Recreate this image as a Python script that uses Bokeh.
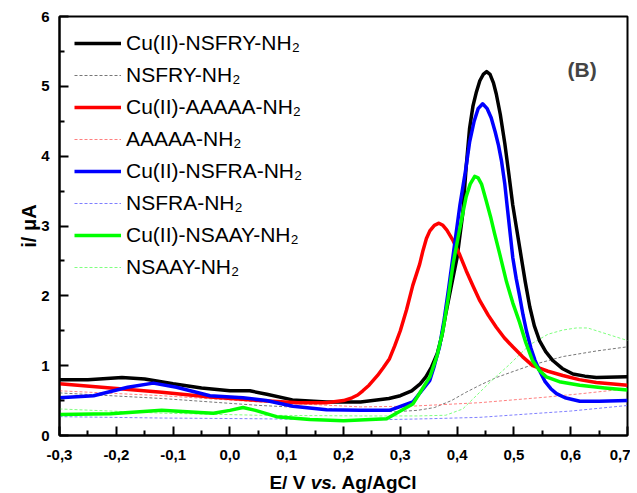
from bokeh.plotting import figure
from bokeh.models import (FixedTicker, CustomJSTickFormatter, Legend, LegendItem, Label, Div)
from bokeh.layouts import column
from bokeh.embed import file_html
from bokeh.resources import INLINE

# ---------------- data ----------------
# Cu(II)-NSFRY-NH2 (black, solid)
E_cu_nsfry = [-0.30, -0.25, -0.19, -0.15, -0.10, -0.05, 0.00, 0.035, 0.065, 0.11, 0.17, 0.23, 0.28,
              0.30, 0.32, 0.335, 0.345, 0.355, 0.365, 0.373, 0.38, 0.39, 0.40, 0.41, 0.416, 0.422,
              0.428, 0.434, 0.44, 0.446, 0.452, 0.458, 0.464, 0.469, 0.476, 0.484, 0.491, 0.498,
              0.505, 0.513, 0.52, 0.528, 0.536, 0.545, 0.556, 0.569, 0.585, 0.604, 0.625, 0.645, 0.70]
i_cu_nsfry = [0.80, 0.80, 0.83, 0.81, 0.74, 0.68, 0.64, 0.64, 0.59, 0.51, 0.48, 0.48, 0.53,
              0.57, 0.64, 0.74, 0.84, 0.98, 1.17, 1.42, 1.74, 2.15, 2.55, 3.18, 3.85, 4.40,
              4.72, 4.92, 5.08, 5.17, 5.21, 5.17, 5.05, 4.89, 4.60, 4.18, 3.75, 3.30,
              2.95, 2.55, 2.20, 1.84, 1.57, 1.36, 1.20, 1.07, 0.96, 0.88, 0.85, 0.83, 0.84]
# NSFRY-NH2 (black, dashed)
E_nsfry = [-0.30, -0.12, 0.053, 0.23, 0.29, 0.33, 0.36, 0.39, 0.416, 0.44, 0.469, 0.50, 0.528, 0.586, 0.645, 0.70]
i_nsfry = [0.61, 0.53, 0.43, 0.36, 0.34, 0.36, 0.40, 0.50, 0.62, 0.72, 0.83, 0.92, 1.00, 1.13, 1.21, 1.27]

# Cu(II)-AAAAA-NH2 (red, solid)
E_cu_aaaaa = [-0.30, -0.21, -0.12, -0.035, 0.053, 0.12, 0.17, 0.20, 0.215, 0.225, 0.234, 0.245,
              0.26, 0.27, 0.281, 0.29, 0.30, 0.311, 0.322, 0.334, 0.34, 0.346, 0.352, 0.36, 0.368,
              0.375, 0.382, 0.393, 0.405, 0.416, 0.428, 0.44, 0.455, 0.469, 0.483, 0.498, 0.515,
              0.533, 0.56, 0.586, 0.615, 0.645, 0.70]
i_cu_aaaaa = [0.74, 0.68, 0.62, 0.55, 0.50, 0.47, 0.47, 0.50, 0.54, 0.58, 0.64, 0.72,
              0.86, 0.97, 1.10, 1.28, 1.50, 1.80, 2.15, 2.45, 2.65, 2.82, 2.93, 3.01, 3.04,
              3.01, 2.94, 2.79, 2.58, 2.36, 2.14, 1.93, 1.72, 1.55, 1.40, 1.27, 1.13,
              1.00, 0.92, 0.86, 0.80, 0.76, 0.72]
# AAAAA-NH2 (red, dashed)
E_aaaaa = [-0.30, -0.12, 0.053, 0.23, 0.32, 0.44, 0.557, 0.62, 0.70]
i_aaaaa = [0.64, 0.57, 0.48, 0.41, 0.42, 0.47, 0.55, 0.60, 0.67]

# Cu(II)-NSFRA-NH2 (blue, solid)
E_cu_nsfra = [-0.30, -0.24, -0.18, -0.135, -0.094, -0.035, 0.023, 0.064, 0.111, 0.17, 0.23, 0.281,
              0.322, 0.352, 0.36, 0.369, 0.377, 0.385, 0.395, 0.405, 0.415, 0.422, 0.43, 0.437,
              0.445, 0.453, 0.46, 0.467, 0.473, 0.478, 0.484, 0.489, 0.494, 0.498, 0.504, 0.51,
              0.516, 0.522, 0.53, 0.537, 0.545, 0.555, 0.565, 0.575, 0.59, 0.616, 0.65, 0.70]
i_cu_nsfra = [0.54, 0.57, 0.69, 0.75, 0.69, 0.57, 0.54, 0.50, 0.42, 0.37, 0.36, 0.36,
              0.48, 0.79, 1.00, 1.27, 1.65, 2.10, 2.70, 3.30, 3.80, 4.20, 4.50, 4.68,
              4.75, 4.68, 4.55, 4.35, 4.15, 3.94, 3.60, 3.22, 2.85, 2.55, 2.25, 2.00,
              1.73, 1.50, 1.25, 1.08, 0.93, 0.77, 0.67, 0.60, 0.54, 0.49, 0.49, 0.50]
# NSFRA-NH2 (blue, dashed)
E_nsfra = [-0.30, -0.12, 0.05, 0.23, 0.35, 0.44, 0.528, 0.60, 0.70]
i_nsfra = [0.27, 0.25, 0.24, 0.22, 0.24, 0.26, 0.31, 0.35, 0.43]

# Cu(II)-NSAAY-NH2 (green, solid)
E_cu_nsaay = [-0.30, -0.21, -0.12, -0.053, -0.029, 0.00, 0.023, 0.045, 0.082, 0.141, 0.20, 0.276,
              0.322, 0.352, 0.365, 0.375, 0.384, 0.393, 0.402, 0.41, 0.416, 0.423, 0.431, 0.437,
              0.443, 0.451, 0.459, 0.466, 0.475, 0.487, 0.498, 0.51, 0.521, 0.533, 0.545, 0.557,
              0.58, 0.616, 0.66, 0.70]
i_cu_nsaay = [0.30, 0.31, 0.36, 0.33, 0.32, 0.36, 0.40, 0.36, 0.27, 0.23, 0.21, 0.24,
              0.45, 0.84, 1.15, 1.50, 1.95, 2.46, 2.85, 3.18, 3.42, 3.60, 3.71, 3.69,
              3.60, 3.37, 3.13, 2.89, 2.60, 2.20, 1.90, 1.62, 1.33, 1.07, 0.93, 0.84,
              0.77, 0.72, 0.68, 0.65]
# NSAAY-NH2 (green, dashed)
E_nsaay = [-0.30, -0.12, 0.05, 0.23, 0.33, 0.38, 0.41, 0.44, 0.46, 0.49, 0.528, 0.56, 0.586, 0.61,
           0.63, 0.657, 0.70]
i_nsaay = [0.38, 0.32, 0.29, 0.28, 0.28, 0.29, 0.38, 0.62, 0.78, 1.00, 1.30, 1.45, 1.51, 1.54,
           1.54, 1.47, 1.36]

X_TICKS = [-0.3, -0.2, -0.1, 0.0, 0.1, 0.2, 0.3, 0.4, 0.5, 0.6, 0.7]
Y_TICKS = [0, 1, 2, 3, 4, 5, 6]

FONT = "Liberation Sans"

p = figure(width=630, height=468, x_range=(-0.3, 0.7), y_range=(0, 6),
           output_backend="svg", toolbar_location=None,
           min_border_left=59, min_border_right=3, min_border_top=16, min_border_bottom=33)
p.background_fill_color = "white"
p.border_fill_color = "white"
p.grid.visible = False
p.outline_line_color = "black"
p.outline_line_width = 2

x_minor = [(a + b) / 2 for a, b in zip(X_TICKS[:-1], X_TICKS[1:])]
y_minor = [(a + b) / 2 for a, b in zip(Y_TICKS[:-1], Y_TICKS[1:])]
p.xaxis.ticker = FixedTicker(ticks=X_TICKS, minor_ticks=x_minor)
p.yaxis.ticker = FixedTicker(ticks=Y_TICKS, minor_ticks=y_minor)
p.xaxis.formatter = CustomJSTickFormatter(code="""
    if (Math.abs(tick) < 1e-9) { return '0,0'; }
    return tick.toFixed(1).replace('.', ',');
""")

for ax in (p.xaxis[0], p.yaxis[0]):
    ax.axis_line_width = 2
    ax.axis_line_color = "black"
    ax.major_tick_in = 9
    ax.major_tick_out = 0
    ax.minor_tick_in = 5
    ax.minor_tick_out = 0
    ax.major_tick_line_width = 2
    ax.minor_tick_line_width = 2
    ax.major_tick_line_color = "black"
    ax.minor_tick_line_color = "black"
    ax.major_label_text_font = FONT
    ax.major_label_text_font_style = "bold"
    ax.major_label_text_font_size = "15px"
    ax.major_label_text_color = "black"

p.xaxis.major_label_standoff = 14
p.yaxis.major_label_standoff = 10
p.yaxis.axis_label = "i/ μA"
p.yaxis.axis_label_text_font = FONT
p.yaxis.axis_label_text_font_style = "bold"
p.yaxis.axis_label_text_font_size = "20px"
p.yaxis.axis_label_text_color = "black"
p.yaxis.axis_label_standoff = -2

SOLID_W = 3.5
DASH_W = 1.0
DASH = "3 2"
GREEN = "#00ff00"

r_nsfry = p.line(E_nsfry, i_nsfry, line_color="#777777", line_width=DASH_W, line_dash=DASH)
r_aaaaa = p.line(E_aaaaa, i_aaaaa, line_color="#ff7f7f", line_width=DASH_W, line_dash=DASH)
r_nsfra = p.line(E_nsfra, i_nsfra, line_color="#7f7fff", line_width=DASH_W, line_dash=DASH)
r_nsaay = p.line(E_nsaay, i_nsaay, line_color="#7fff7f", line_width=DASH_W, line_dash=DASH)

r_cu_nsfry = p.line(E_cu_nsfry, i_cu_nsfry, line_color="black", line_width=SOLID_W, line_join="round")
r_cu_aaaaa = p.line(E_cu_aaaaa, i_cu_aaaaa, line_color="red", line_width=SOLID_W, line_join="round")
r_cu_nsfra = p.line(E_cu_nsfra, i_cu_nsfra, line_color="blue", line_width=SOLID_W, line_join="round")
r_cu_nsaay = p.line(E_cu_nsaay, i_cu_nsaay, line_color=GREEN, line_width=SOLID_W, line_join="round")

legend = Legend(items=[
    LegendItem(label="Cu(II)-NSFRY-NH₂", renderers=[r_cu_nsfry]),
    LegendItem(label="NSFRY-NH₂", renderers=[r_nsfry]),
    LegendItem(label="Cu(II)-AAAAA-NH₂", renderers=[r_cu_aaaaa]),
    LegendItem(label="AAAAA-NH₂", renderers=[r_aaaaa]),
    LegendItem(label="Cu(II)-NSFRA-NH₂", renderers=[r_cu_nsfra]),
    LegendItem(label="NSFRA-NH₂", renderers=[r_nsfra]),
    LegendItem(label="Cu(II)-NSAAY-NH₂", renderers=[r_cu_nsaay]),
    LegendItem(label="NSAAY-NH₂", renderers=[r_nsaay]),
], location="top_left")
legend.label_text_font = FONT
legend.label_text_font_size = "21px"
legend.label_text_color = "black"
legend.glyph_width = 47
legend.glyph_height = 24
legend.label_height = 24
legend.label_standoff = 5
legend.spacing = 8
legend.padding = 10
legend.margin = 15
legend.border_line_color = None
legend.background_fill_alpha = 0
p.add_layout(legend)

# panel tag
p.add_layout(Label(x=0.62, y=5.24, text="(B)", text_font=FONT, text_font_style="bold",
                   text_font_size="21px", text_align="center", text_baseline="middle"))

# x-axis title with italic "vs." (HTML so mixed styles are possible)
xtitle = Div(text=(
    '<div style="width:630px; padding-left:56px; padding-top:5px; box-sizing:border-box; text-align:center; '
    'font-family:\'Liberation Sans\'; font-weight:bold; font-size:19px; line-height:20px; color:black;">'
    'E/ V <i>vs.</i> Ag/AgCl</div>'), width=630, height=25, margin=0)

layout = column(p, xtitle, spacing=0)
open("out.html", "w").write(file_html(layout, INLINE))
